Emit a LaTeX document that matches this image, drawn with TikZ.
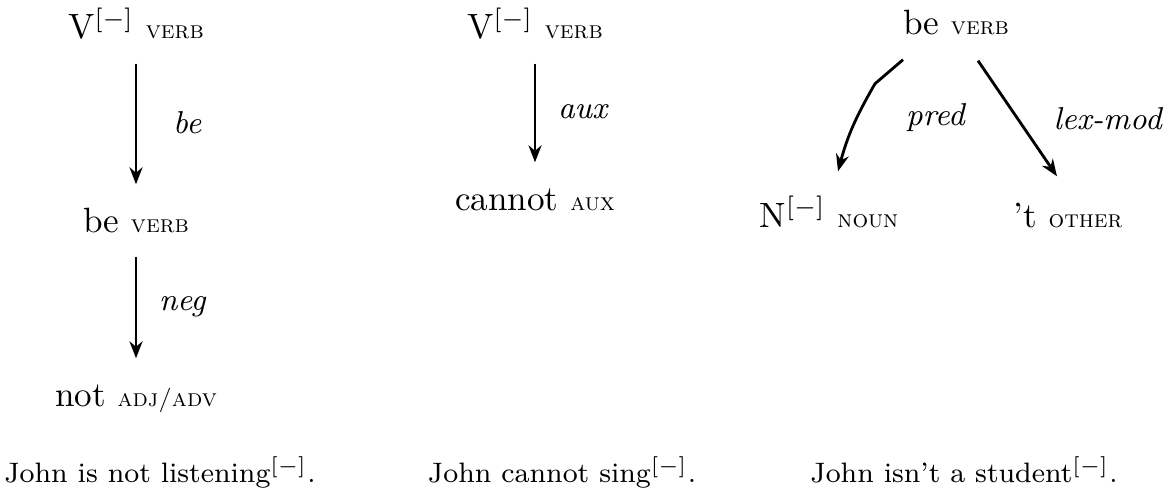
\documentclass[tikz,border=0pt]{standalone}
\usetikzlibrary{arrows.meta}

\newcommand{\tagsc}[1]{{\scriptsize\textsc{#1}}}

\begin{document}
\begin{tikzpicture}[
  word/.style={anchor=base, inner sep=0pt, text height=0.25cm, text depth=0cm},
  sent/.style={anchor=base, inner sep=0pt, font=\footnotesize},
  rel/.style={font=\small\itshape},
  dep/.style={thick, ->, shorten <=0.24cm, shorten >=0.22cm},
  >={Stealth[length=1.7mm, width=1.3mm]}
]
\useasboundingbox (0,0) rectangle (11.76,-4.91);

% John is not listening
\node[word] (verbA) at (1.36,-0.39) {V$^{[-]}$ \tagsc{verb}};
\node[word] (beA) at (1.36,-2.32) {be \tagsc{verb}};
\node[word] (notA) at (1.36,-4.06) {not \tagsc{adj/adv}};
\node[sent] (sentA) at (1.60,-4.82) {John is not listening$^{[-]}$.};

\draw[dep] (verbA) -- (beA) node[rel, midway, right=0.24cm] (relA) {be};
\draw[dep] (beA) -- (notA) node[rel, midway, right=0.1cm] (relB) {neg};

% John cannot sing
\node[word] (verbB) at (5.35,-0.39) {V$^{[-]}$ \tagsc{verb}};
\node[word] (cannotB) at (5.35,-2.10) {cannot \tagsc{aux}};
\node[sent] (sentB) at (5.62,-4.82) {John cannot sing$^{[-]}$.};

\draw[dep] (verbB) -- (cannotB) node[rel, midway, right=0.1cm] (relC) {aux};

% John isn't a student
\node[word] (beC) at (9.56,-0.35) {be \tagsc{verb}};
\node[word] (nounC) at (8.29,-2.27) {N$^{[-]}$ \tagsc{noun}};
\node[word] (otherC) at (10.68,-2.27) {'t \tagsc{other}};
\node[sent] (sentC) at (9.64,-4.82) {John isn't a student$^{[-]}$.};

\draw[thick, ->] ([xshift=-0.53cm, yshift=-0.24cm]beC.south) -- ++(-0.28,-0.24)
  to[out=240, in=75] ([xshift=0.09cm, yshift=0.30cm]nounC.north);
\node[rel] (relD) at (9.355,-1.18) {pred};
\draw[thick, ->] ([xshift=0.22cm, yshift=-0.25cm]beC.south) -- ([xshift=-0.11cm, yshift=0.25cm]otherC.north)
  node[rel, midway, right=0.23cm] (relE) {lex-mod};

\end{tikzpicture}
\end{document}
